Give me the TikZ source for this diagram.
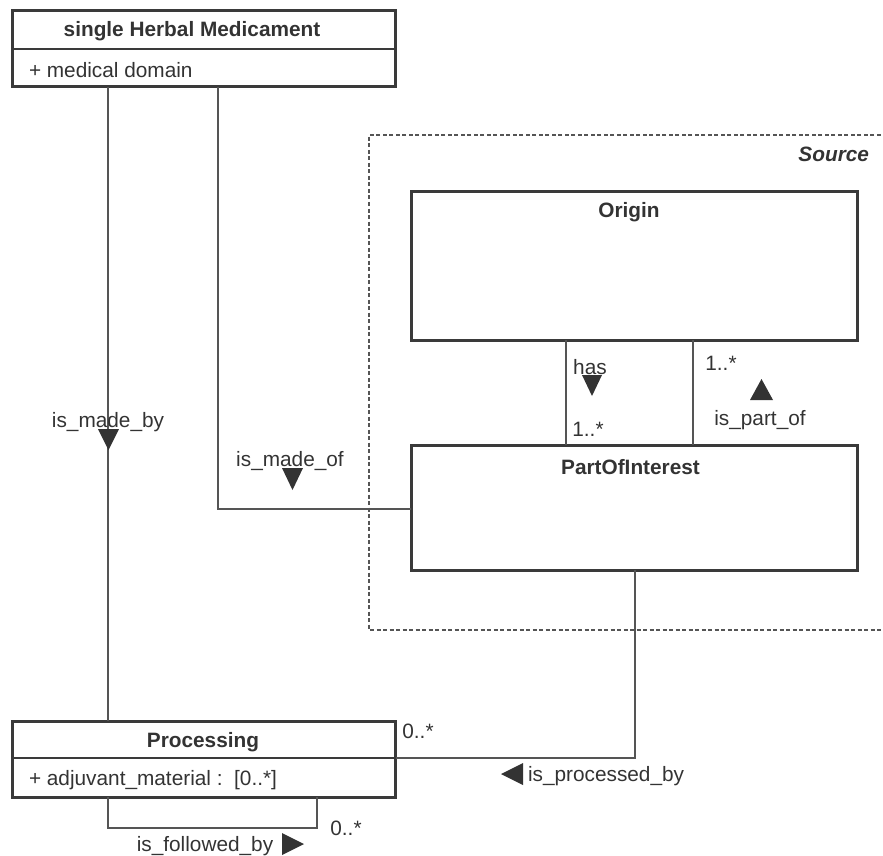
\documentclass[tikz,border=0pt]{standalone}
\usepackage{fontspec}
\setmainfont{Liberation Sans}
\definecolor{ink}{HTML}{333333}
\definecolor{boxc}{HTML}{3A3A3A}
\definecolor{connc}{HTML}{555555}
\begin{document}
\begin{tikzpicture}[x=1pt,y=-1pt,
  every node/.style={inner sep=0pt,outer sep=0pt,text=ink},
  txt/.style={font=\fontsize{20.8}{24}\selectfont},
  ttl/.style={font=\fontsize{20.8}{24}\selectfont\bfseries},
  classbox/.style={draw=boxc,line width=3pt,rectangle,fill=none},
  divider/.style={draw=boxc,line width=1.6pt},
  conn/.style={draw=connc,line width=2pt},
  tri/.style={fill=ink,draw=none},
  frame/.style={draw=connc,line width=1.3pt,dash pattern=on 4pt off 2.5pt}]
\useasboundingbox (0,0) rectangle (883,856);

% Source package frame
\draw[frame] (900,135) -- (369,135) -- (369,630) -- (900,630);
\node[font=\fontsize{20.8}{24}\selectfont\bfseries\itshape,anchor=east] (src) at (869,154) {Source};

% classes
\node[classbox,minimum width=383,minimum height=76] (shm) at (204,49) {};
\node[classbox,minimum width=446,minimum height=149] (origin) at (634,265.5) {};
\node[classbox,minimum width=446,minimum height=125] (poi) at (634,507.5) {};
\node[classbox,minimum width=383,minimum height=76] (proc) at (204,759) {};

\draw[divider] (12.5,49) -- (395.5,49);
\draw[divider] (12.5,758) -- (395.5,758);

\node[ttl] (shmt) at (192,31) {single Herbal Medicament};
\node[txt,anchor=west] (shma) at (29,70) {+ medical domain};
\node[ttl] (origint) at (629,212) {Origin};
\node[ttl] (poit) at (630.5,467) {PartOfInterest};
\node[ttl] (proct) at (203,742) {Processing};
\node[txt,anchor=west] (proca) at (29,780) {+ adjuvant\_material :\ \ [0..*]};

% connectors
\draw[conn] ([xshift=95.5pt]shm.south west) -- ([xshift=95.5pt]proc.north west);
\draw[conn] ([xshift=205.5pt]shm.south west) |- ([yshift=-1.5pt]poi.west);
\draw[conn] ([xshift=-68pt]origin.south) -- ([xshift=-68pt]poi.north);
\draw[conn] ([xshift=59pt]origin.south) -- ([xshift=59pt]poi.north);
\draw[conn] ([xshift=1pt]poi.south) |- ([yshift=1pt]proc.east);
\draw[conn] ([xshift=95.5pt]proc.south west) -- ++(0,31) -| ([xshift=304.5pt]proc.south west);

% association labels
\node[txt] (lmby) at (108,422) {is\_made\_by};
\draw[tri] (98,429) -- (119,429) -- (108.5,450) -- cycle;
\node[txt] (lmof) at (290,461) {is\_made\_of};
\draw[tri] (282,468) -- (303,468) -- (292.5,490) -- cycle;
\node[txt] (lhas) at (590,367) {has};
\draw[tri] (582,375) -- (602,375) -- (592,396) -- cycle;
\node[txt] (lhm) at (588,429) {1..*};
\node[txt] (lpm) at (721,363) {1..*};
\draw[tri] (750,400) -- (773,400) -- (761.5,379) -- cycle;
\node[txt] (lpo) at (760,420) {is\_part\_of};
\node[txt] (lpbm) at (418,731) {0..*};
\draw[tri] (501,774) -- (523,763) -- (523,785) -- cycle;
\node[txt,anchor=west] (lpb) at (528,776) {is\_processed\_by};
\node[txt] (lfm) at (346,828) {0..*};
\node[txt] (lfb) at (205,846) {is\_followed\_by};
\draw[tri] (282,833) -- (304,844) -- (282,855) -- cycle;
\end{tikzpicture}
\end{document}
